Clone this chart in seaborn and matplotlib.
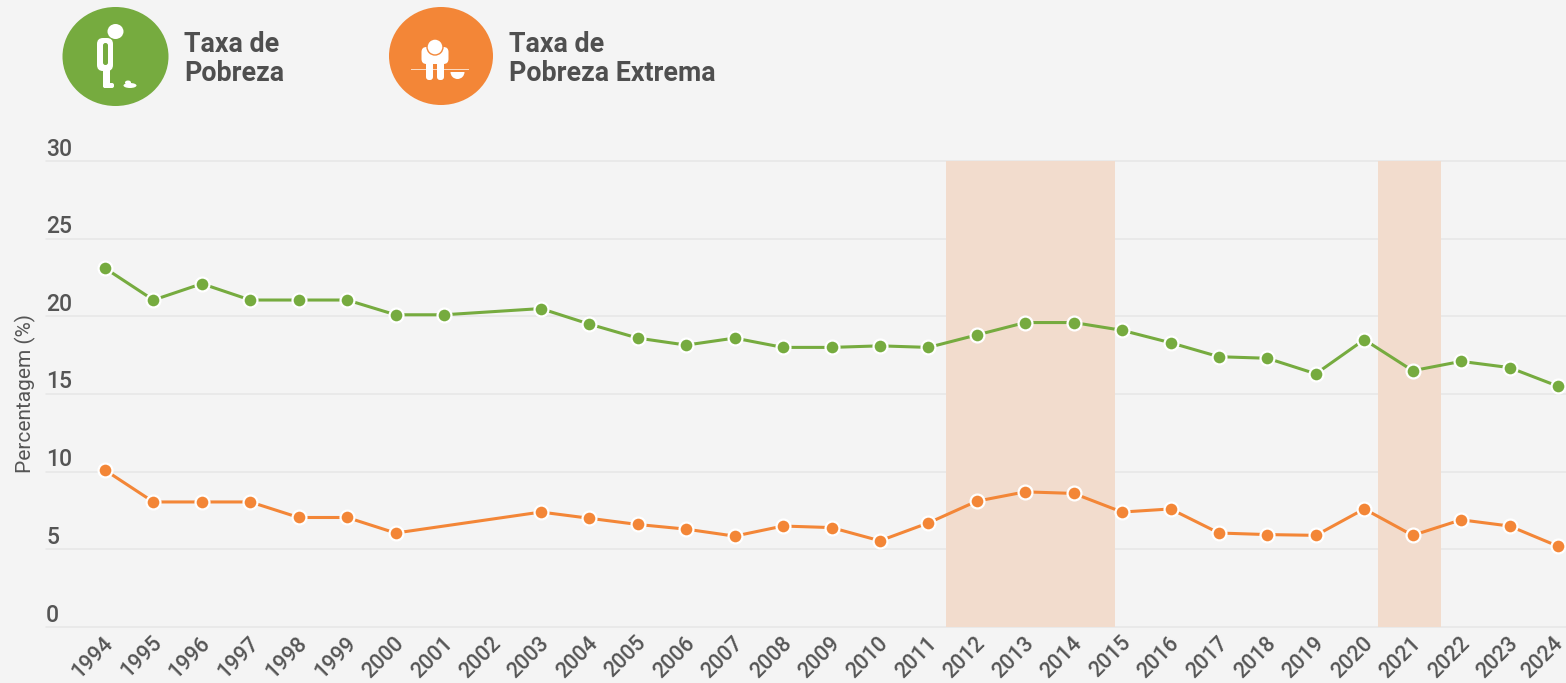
import matplotlib
matplotlib.use("Agg")
import matplotlib.pyplot as plt
import matplotlib.patches as mp
from matplotlib.transforms import ScaledTranslation
import numpy as np
import pandas as pd
import seaborn as sns

years_pov = [1994,1995,1996,1997,1998,1999,2000,2001,2003,2004,2005,2006,2007,2008,2009,2010,2011,2012,2013,2014,2015,2016,2017,2018,2019,2020,2021,2022,2023,2024]
poverty = [23.1,21.05,22.1,21.05,21.05,21.05,20.1,20.1,20.5,19.5,18.6,18.15,18.6,18.0,18.0,18.1,18.0,18.8,19.6,19.6,19.1,18.3,17.4,17.3,16.3,18.5,16.5,17.1,16.7,15.5]
years_ext = [1994,1995,1996,1997,1998,1999,2000,2003,2004,2005,2006,2007,2008,2009,2010,2011,2012,2013,2014,2015,2016,2017,2018,2019,2020,2021,2022,2023,2024]
extreme = [10.1,8.05,8.05,8.05,7.05,7.05,6.05,7.4,7.0,6.6,6.3,5.85,6.5,6.4,5.55,6.7,8.1,8.7,8.6,7.4,7.6,6.05,5.95,5.9,7.6,5.9,6.9,6.5,5.2]
all_years = list(range(1994, 2025))
y_ticks = [0,5,10,15,20,25,30]
shaded = [(2011.37, 2014.85), (2020.28, 2021.58)]
GREEN, ORANGE, BG, TXT = "#76ab3f", "#f38637", "#f4f4f4", "#555555"

sns.set_theme(style="white")
plt.rcParams['font.family'] = ['Roboto', 'DejaVu Sans']
W, H = 1566, 683
fig = plt.figure(figsize=(W/100, H/100), dpi=100, facecolor=BG)
ax = fig.add_axes([46/W, 1-627/H, (1566-46)/W, (627-161)/H], facecolor=BG)

df_p = pd.DataFrame({"ano": years_pov, "taxa": poverty})
df_e = pd.DataFrame({"ano": years_ext, "taxa": extreme})
style = dict(marker="o", markersize=10, markeredgecolor="white", markeredgewidth=1.6,
             linewidth=2.2, clip_on=False, zorder=4)
sns.lineplot(data=df_p, x="ano", y="taxa", color=GREEN, ax=ax, **style)
sns.lineplot(data=df_e, x="ano", y="taxa", color=ORANGE, ax=ax, **style)
for a, b in shaded:
    ax.axvspan(a, b, color="#f2dccd", lw=0, zorder=2)

ax.set_xlim(1994-59/48.43, 2024+8/48.43)
ax.set_ylim(0, 30)
ax.grid(False)
for v in y_ticks:
    ax.axhline(v, color="#e6e6e6", lw=1.1, zorder=1, clip_on=False)
for s in ax.spines.values():
    s.set_visible(False)

ax.set_yticks(y_ticks)
ax.set_yticklabels([str(v) for v in y_ticks])
ax.tick_params(axis="y", length=0, pad=0, labelsize=16.5, labelcolor=TXT)
off = ScaledTranslation(0, 0.5/100, fig.dpi_scale_trans)
for lab in ax.get_yticklabels():
    lab.set_ha("left")
    lab.set_va("bottom")
    lab.set_fontweight("medium")
    lab.set_transform(lab.get_transform() + off)

ax.set_xticks(all_years)
ax.set_xticklabels([str(v) for v in all_years], rotation=45, ha="right", va="top", rotation_mode="anchor")
ax.tick_params(axis="x", length=0, pad=4, labelsize=15.5, labelcolor=TXT)
xlabs = ax.get_xticklabels()
for i, lab in enumerate(xlabs):
    dx = -6 if i == len(xlabs) - 1 else -2
    lab.set_fontweight("medium")
    lab.set_transform(lab.get_transform() + ScaledTranslation(dx/100, 0, fig.dpi_scale_trans))

ax.set_xlabel("")
ax.set_ylabel("")
fig.text(25/W, 1-393/H, "Percentagem (%)", rotation=90, ha="center", va="center", fontsize=15, color=TXT)

# header icons, in pixel coordinates
ov = fig.add_axes([0, 0, 1, 1], facecolor="none")
ov.set_xlim(0, W); ov.set_ylim(H, 0); ov.axis("off")
def rr(x, y, w, h, r=3, fc="white"):
    ov.add_patch(mp.FancyBboxPatch((x+r, y+r), w-2*r, h-2*r, boxstyle=f"round,pad={r},rounding_size={r}", fc=fc, ec="none"))

ov.add_patch(mp.Ellipse((115.5, 56.5), 106, 99, fc=GREEN, ec="none"))
ov.add_patch(mp.Ellipse((115.5, 31.5), 16, 15, fc="white", ec="none"))
rr(97, 38, 16, 33, r=6)
rr(103, 43, 5, 22, r=2.4, fc=GREEN)
rr(103, 68, 7, 20, r=2.5)
rr(103, 83, 11, 5, r=2)
ov.add_patch(mp.Ellipse((130, 85.5), 13, 5, fc="white", ec="none"))
ov.add_patch(mp.Ellipse((128, 82.5), 6, 4, fc="white", ec="none"))

ov.add_patch(mp.Ellipse((441, 56), 104, 98, fc=ORANGE, ec="none"))
rr(421.5, 47, 27, 17, r=5)
ov.add_patch(mp.Ellipse((435, 47), 16, 16, fc="white", ec=ORANGE, lw=1))
ov.add_patch(mp.Rectangle((410.5, 68.5), 58, 1.6, fc="#fbd9bf", ec="none"))
rr(426, 61, 7, 19, r=3)
rr(437, 61, 7, 19, r=3)
ov.add_patch(mp.Wedge((457.5, 72), 7, 0, 180, fc="white", ec="none"))

for x, lines in ((184, ("Taxa de", "Pobreza")), (509, ("Taxa de", "Pobreza Extrema"))):
    for y, t in zip((44.5, 73.5), lines):
        ov.text(x, y, t, fontsize=19.3, fontweight="bold", color="#4f4f4f", ha="left", va="center")

fig.savefig("out.png", dpi=100, facecolor=BG)
